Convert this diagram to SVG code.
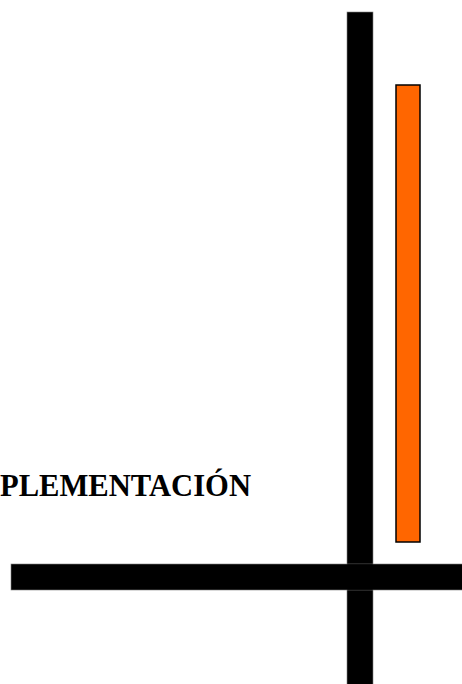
<svg xmlns="http://www.w3.org/2000/svg" width="462" height="684" viewBox="0 0 462 684">
<style>
.bar{fill:#000;stroke:#808080;stroke-width:0.6}
.orange{fill:#ff6600;stroke:#000;stroke-width:1.5}
.title{font-family:"Liberation Serif",serif;font-weight:bold;font-size:30.5px;fill:#000}
</style>
<rect width="462" height="684" fill="#fff"/>
<g id="vertical-bar"><rect class="bar" x="347" y="12" width="26" height="680"/></g>
<g id="horizontal-bar"><rect class="bar" x="11" y="564" width="460" height="26"/></g>
<g id="orange-bar"><rect class="orange" x="396" y="85" width="24" height="457"/></g>
<g id="crossing"><rect x="347.3" y="564.3" width="25.4" height="25.4" fill="#000"/></g>
<g id="label"><text class="title" x="0" y="496" textLength="251" lengthAdjust="spacingAndGlyphs">PLEMENTACIÓN</text></g>
</svg>
